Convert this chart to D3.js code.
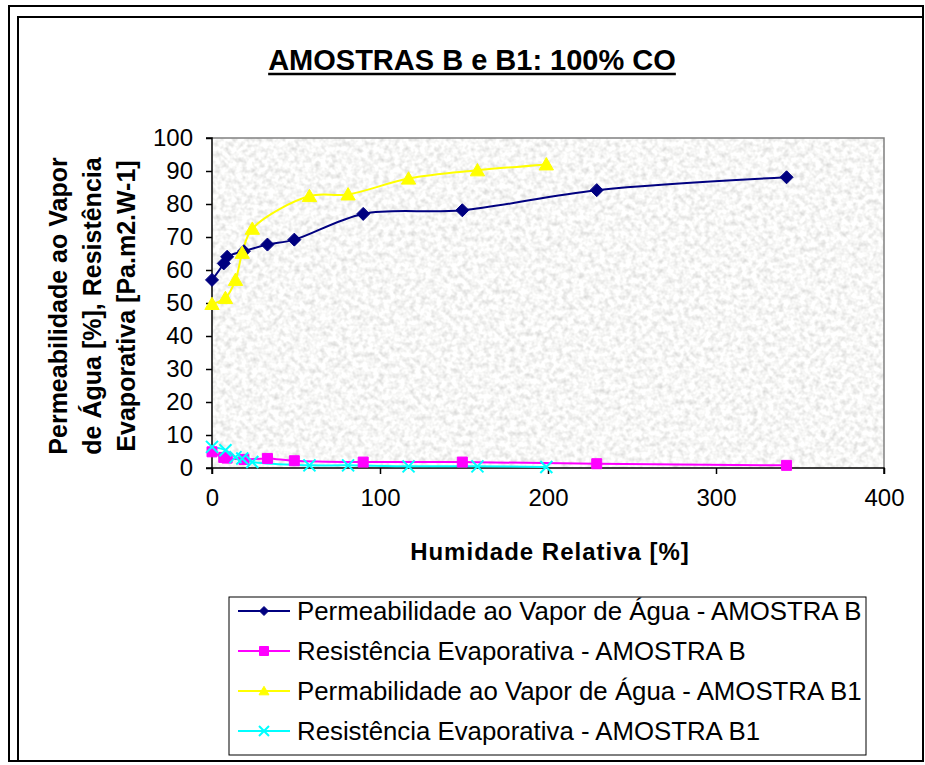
<!DOCTYPE html>
<html>
<head>
<meta charset="utf-8">
<script src="https://cdn.jsdelivr.net/npm/d3@7"></script>
<style>
  body { margin: 0; background: #fff; }
  svg { display: block; }
  text { font-family: "Liberation Sans", Arial, sans-serif; fill: #000; }
</style>
</head>
<body>
<svg id="chart" width="925" height="765"></svg>
<script>
// Relative humidity (%) for each measurement, sample B and sample B1
const humidityB  = [0, 7, 9, 19, 33, 49, 90, 149, 229, 342];
const humidityB1 = [0, 8, 14, 18, 24, 58, 81, 117, 158, 199];

// Water-vapour permeability (%) and evaporative resistance (Pa.m2.W-1)
const permeabilityB  = [57, 62, 64, 65.7, 67.7, 69.2, 77, 78.1, 84.2, 88.1];
const resistanceB    = [4.9, 3.2, 3.0, 2.6, 2.9, 2.2, 1.8, 1.8, 1.3, 0.8];
const permeabilityB1 = [49.7, 51.5, 57, 65.2, 72.5, 82.4, 82.9, 87.7, 90.2, 92];
const resistanceB1   = [6.4, 5.4, 3.3, 2.9, 1.8, 0.8, 0.8, 0.5, 0.5, 0.3];

const seriesNames = [
  "Permeabilidade ao Vapor de Água - AMOSTRA B",
  "Resistência Evaporativa - AMOSTRA B",
  "Permabilidade ao Vapor de Água - AMOSTRA B1",
  "Resistência Evaporativa - AMOSTRA B1"
];
const xTickValues = [0, 100, 200, 300, 400];
const yTickValues = [0, 10, 20, 30, 40, 50, 60, 70, 80, 90, 100];

const chartTitle = "AMOSTRAS B e B1: 100% CO";
const xTitle = "Humidade Relativa [%]";
const yTitleLines = ["Permeabilidade ao Vapor", "de Água [%], Resistência", "Evaporativa [Pa.m2.W-1]"];

const series = [
  { name: seriesNames[0], x: humidityB,  y: permeabilityB,  color: "#000080", marker: "diamond" },
  { name: seriesNames[1], x: humidityB,  y: resistanceB,    color: "#FF00FF", marker: "square" },
  { name: seriesNames[2], x: humidityB1, y: permeabilityB1, color: "#FFFF00", marker: "triangle" },
  { name: seriesNames[3], x: humidityB1, y: resistanceB1,   color: "#00FFFF", marker: "cross" }
];

const svg = d3.select("#chart");
const plot = { left: 212, right: 884, top: 138, bottom: 468 };

const x = d3.scaleLinear().domain([0, 400]).range([plot.left, plot.right]);
const y = d3.scaleLinear().domain([0, 100]).range([plot.bottom, plot.top]);

// Outer frame and inner chart border
svg.append("rect").attr("x", 9).attr("y", 6).attr("width", 914).attr("height", 755)
  .attr("fill", "none").attr("stroke", "#000").attr("stroke-width", 2);
svg.append("path").attr("d", "M18,761 V17 H923")
  .attr("fill", "none").attr("stroke", "#000").attr("stroke-width", 2);

// Granite-like texture in the plot area
const defs = svg.append("defs");
const filt = defs.append("filter").attr("id", "granite")
  .attr("x", 0).attr("y", 0).attr("width", 1).attr("height", 1)
  .attr("filterUnits", "objectBoundingBox");
filt.append("feTurbulence").attr("type", "fractalNoise")
  .attr("baseFrequency", "0.19").attr("numOctaves", 2).attr("seed", 7).attr("result", "noise");
filt.append("feColorMatrix").attr("type", "matrix")
  .attr("values", "0.6 0 0 0 0.63  0.6 0 0 0 0.63  0.6 0 0 0 0.62  0 0 0 0 1");

svg.append("rect")
  .attr("x", plot.left).attr("y", plot.top)
  .attr("width", plot.right - plot.left).attr("height", plot.bottom - plot.top)
  .attr("fill", "#ebebe9").attr("filter", "url(#granite)");
svg.append("path")
  .attr("d", `M${plot.left},${plot.top} H${plot.right} V${plot.bottom}`)
  .attr("fill", "none").attr("stroke", "#808080").attr("stroke-width", 1.5);

// Axes
const xAxis = d3.axisBottom(x).tickValues(xTickValues).tickSize(6).tickPadding(10);
const yAxis = d3.axisLeft(y).tickValues(yTickValues).tickSize(6).tickPadding(13);

const gx = svg.append("g").attr("transform", `translate(0,${plot.bottom})`).call(xAxis);
const gy = svg.append("g").attr("transform", `translate(${plot.left},0)`).call(yAxis);
[gx, gy].forEach(g => {
  g.select(".domain").attr("stroke", "#000").attr("stroke-width", 1.5);
  g.selectAll(".tick line").attr("stroke", "#000").attr("stroke-width", 1.5);
  g.selectAll(".tick text").attr("font-size", 24).attr("fill", "#000")
    .attr("font-family", "\"Liberation Sans\", Arial, sans-serif");
});
gx.select(".domain").attr("d", `M${plot.left},6V0H${plot.right}V6`);
gy.select(".domain").attr("d", `M-6,${plot.bottom}H0V${plot.top}H-6`);
gx.selectAll(".tick text").attr("dy", "0.9em");

// Marker shapes
function markerPath(type, s) {
  switch (type) {
    case "diamond":  return `M0,${-s}L${s},0L0,${s}L${-s},0Z`;
    case "square":   return `M${-s},${-s}H${s}V${s}H${-s}Z`;
    case "triangle": return `M0,${-s * 1.05}L${s * 1.1},${s * 0.85}H${-s * 1.1}Z`;
    case "cross":    return `M${-s},${-s}L${s},${s}M${-s},${s}L${s},${-s}`;
  }
}
function drawMarker(g, type, color, s) {
  const p = g.append("path").attr("d", markerPath(type, s));
  if (type === "cross") p.attr("fill", "none").attr("stroke", color).attr("stroke-width", 2);
  else p.attr("fill", color).attr("stroke", color).attr("stroke-width", 1);
}

const line = d3.line().x(d => x(d[0])).y(d => y(d[1])).curve(d3.curveCatmullRom.alpha(0.5));
const sizes = { diamond: 6.5, square: 5, triangle: 6.5, cross: 6 };

series.forEach(s => {
  const pts = s.x.map((v, i) => [v, s.y[i]]);
  svg.append("path").datum(pts).attr("d", line)
    .attr("fill", "none").attr("stroke", s.color).attr("stroke-width", 2);
});
series.forEach(s => {
  s.x.forEach((v, i) => {
    const g = svg.append("g").attr("transform", `translate(${x(v)},${y(s.y[i])})`);
    drawMarker(g, s.marker, s.color, sizes[s.marker]);
  });
});

// Title
const title = svg.append("text").attr("x", 472).attr("y", 70).attr("text-anchor", "middle")
  .attr("font-size", 29).attr("font-weight", "bold").text(chartTitle);
const tw = title.node().getComputedTextLength();
svg.append("line").attr("x1", 472 - tw / 2).attr("x2", 472 + tw / 2)
  .attr("y1", 74).attr("y2", 74).attr("stroke", "#000").attr("stroke-width", 2.5);

// Axis titles
svg.append("text").attr("x", 550).attr("y", 560).attr("text-anchor", "middle")
  .attr("font-size", 24).attr("font-weight", "bold").attr("letter-spacing", 1).text(xTitle);

const yTitle = svg.append("text").attr("transform", "translate(0,306) rotate(-90)")
  .attr("text-anchor", "middle").attr("font-size", 25).attr("font-weight", "bold");
yTitleLines.forEach((t, i) => {
  yTitle.append("tspan").attr("x", 0).attr("y", 67 + i * 34).text(t);
});

// Legend
const legend = svg.append("g");
legend.append("rect").attr("x", 229).attr("y", 597).attr("width", 637).attr("height", 158)
  .attr("fill", "#fff").attr("stroke", "#000").attr("stroke-width", 1);
series.forEach((s, i) => {
  const cy = 611 + i * 40;
  const g = legend.append("g").attr("transform", `translate(0,${cy})`);
  g.append("line").attr("x1", 238).attr("x2", 290).attr("y1", 0).attr("y2", 0)
    .attr("stroke", s.color).attr("stroke-width", 2);
  const m = g.append("g").attr("transform", "translate(264,0)");
  drawMarker(m, s.marker, s.color, s.marker === "cross" ? 5 : 4.5);
  g.append("text").attr("x", 297).attr("y", 0).attr("dy", "0.35em")
    .attr("font-size", 25.8).text(s.name);
});
</script>
</body>
</html>
